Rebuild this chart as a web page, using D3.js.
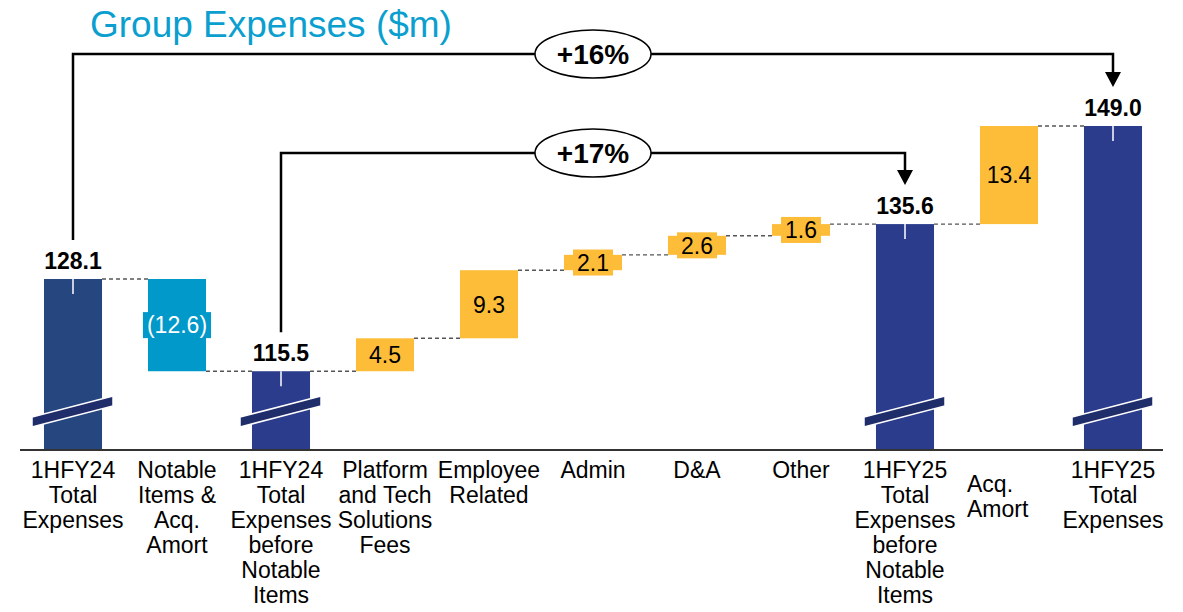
<!DOCTYPE html>
<html>
<head>
<meta charset="utf-8">
<script src="https://cdn.jsdelivr.net/npm/d3@7"></script>
<style>
  html, body { margin: 0; padding: 0; background: #fff; }
  svg { display: block; font-family: "Liberation Sans", Arial, sans-serif; }
</style>
</head>
<body>
<svg id="chart" width="1183" height="612"></svg>
<script>
// categories, one array of lines per bar
const categories = [
  ['1HFY24', 'Total', 'Expenses'],
  ['Notable', 'Items &', 'Acq.', 'Amort'],
  ['1HFY24', 'Total', 'Expenses', 'before', 'Notable', 'Items'],
  ['Platform', 'and Tech', 'Solutions', 'Fees'],
  ['Employee', 'Related'],
  ['Admin'],
  ['D&A'],
  ['Other'],
  ['1HFY25', 'Total', 'Expenses', 'before', 'Notable', 'Items'],
  ['Acq.', 'Amort'],
  ['1HFY25', 'Total', 'Expenses']
];
const values = [128.1, -12.6, 115.5, 4.5, 9.3, 2.1, 2.6, 1.6, 135.6, 13.4, 149.0];
const kinds = ['total', 'neg', 'total', 'pos', 'pos', 'pos', 'pos', 'pos', 'total', 'pos', 'total'];
const growthLabels = ['+16%', '+17%'];
const growthFrom = [0, 2];
const growthTo = [10, 8];

const svg = d3.select('#chart');
const baseY = 450;

const x = d3.scaleBand()
  .domain(d3.range(categories.length))
  .range([21, 1165])
  .paddingInner(0.442)
  .paddingOuter(0.221);
const y = d3.scaleLinear().domain([104.74, 149]).range([baseY, 126]);

// running totals for the floating bars
let running = 0;
const bars = values.map((v, i) => {
  let lo, hi;
  if (kinds[i] === 'total') {
    lo = y.domain()[0];
    hi = v;
    running = v;
  } else {
    lo = Math.min(running, running + v);
    hi = Math.max(running, running + v);
    running += v;
  }
  return { i, v, kind: kinds[i], lo, hi, end: running };
});

const colorFor = (d) => {
  if (d.kind === 'neg') return '#0099c9';
  if (d.kind === 'pos') return '#fdbd39';
  return d.i === 0 ? '#25467f' : '#2a3c8b';
};

// title
svg.append('text')
  .attr('x', 90)
  .attr('y', 37)
  .attr('font-size', 37)
  .attr('fill', '#0b9fcf')
  .text('Group Expenses ($m)');

// connectors
svg.append('g')
  .selectAll('line')
  .data(bars.slice(0, -1))
  .join('line')
  .attr('x1', (d) => x(d.i) + x.bandwidth())
  .attr('x2', (d) => x(d.i + 1))
  .attr('y1', (d) => y(d.end))
  .attr('y2', (d) => y(d.end))
  .attr('stroke', '#555')
  .attr('stroke-width', 1.4)
  .attr('stroke-dasharray', '4,3');

// bars
svg.append('g')
  .selectAll('rect')
  .data(bars)
  .join('rect')
  .attr('x', (d) => x(d.i))
  .attr('width', x.bandwidth())
  .attr('y', (d) => y(d.hi))
  .attr('height', (d) => y(d.lo) - y(d.hi))
  .attr('fill', colorFor);

const totals = bars.filter((d) => d.kind === 'total');

// white tick on top of totals
svg.append('g')
  .selectAll('line')
  .data(totals)
  .join('line')
  .attr('x1', (d) => x(d.i) + x.bandwidth() / 2)
  .attr('x2', (d) => x(d.i) + x.bandwidth() / 2)
  .attr('y1', (d) => y(d.hi))
  .attr('y2', (d) => y(d.hi) + 15)
  .attr('stroke', '#fff')
  .attr('stroke-width', 1.5);

// axis break marks
svg.append('g')
  .selectAll('polygon')
  .data(totals)
  .join('polygon')
  .attr('points', (d) => {
    const cx = x(d.i) + x.bandwidth() / 2;
    return [[cx - 41, 427], [cx + 40, 406], [cx + 40, 396], [cx - 41, 417]].join(' ');
  })
  .attr('fill', '#1f2e6a')
  .attr('stroke', '#fff')
  .attr('stroke-width', 1.5);

// baseline
svg.append('line')
  .attr('x1', 20).attr('x2', 1163)
  .attr('y1', baseY).attr('y2', baseY)
  .attr('stroke', '#333').attr('stroke-width', 2);

// total value labels
svg.append('g')
  .selectAll('text')
  .data(totals)
  .join('text')
  .attr('x', (d) => x(d.i) + x.bandwidth() / 2)
  .attr('y', (d) => y(d.hi) - 10)
  .attr('text-anchor', 'middle')
  .attr('font-size', 23)
  .attr('font-weight', 'bold')
  .attr('fill', '#000')
  .text((d) => d3.format('.1f')(d.v));

// floating labels with filled background
const floats = bars.filter((d) => d.kind !== 'total');
const fl = svg.append('g')
  .selectAll('g')
  .data(floats)
  .join('g')
  .attr('transform', (d) => `translate(${x(d.i) + x.bandwidth() / 2},${(y(d.lo) + y(d.hi)) / 2})`);
fl.append('text')
  .attr('text-anchor', 'middle')
  .attr('dy', '0.36em')
  .attr('font-size', 23)
  .attr('fill', (d) => (d.kind === 'neg' ? '#fff' : '#000'))
  .text((d) => (d.v < 0 ? `(${d3.format('.1f')(-d.v)})` : d3.format('.1f')(d.v)));
fl.each(function (d) {
  const g = d3.select(this);
  const w = g.select('text').node().getComputedTextLength();
  g.insert('rect', 'text')
    .attr('x', -w / 2 - 4)
    .attr('y', -13)
    .attr('width', w + 8)
    .attr('height', 26)
    .attr('fill', colorFor(d));
});

// category labels
const cat = svg.append('g')
  .selectAll('text')
  .data(categories)
  .join('text')
  .attr('font-size', 23)
  .attr('fill', '#000')
  .attr('text-anchor', (d, i) => (i === 9 ? 'start' : 'middle'))
  .attr('transform', (d, i) => {
    const cx = x(i) + x.bandwidth() / 2;
    return i === 9 ? `translate(${cx - 42},492)` : `translate(${cx},478)`;
  });
cat.selectAll('tspan')
  .data((d) => d)
  .join('tspan')
  .attr('x', 0)
  .attr('dy', (d, j) => (j === 0 ? 0 : 25))
  .text((d) => d);

// growth brackets
const bracketY = [54, 153];
growthLabels.forEach((label, k) => {
  const a = bars[growthFrom[k]];
  const b = bars[growthTo[k]];
  const xa = x(a.i) + x.bandwidth() / 2;
  const xb = x(b.i) + x.bandwidth() / 2;
  const ya = y(a.hi) - 39;
  const yb = y(b.hi) - 39;
  const hy = bracketY[k];
  const g = svg.append('g');
  g.append('path')
    .attr('d', `M${xa},${ya}V${hy}H${xb}V${yb - 14}`)
    .attr('fill', 'none')
    .attr('stroke', '#000')
    .attr('stroke-width', 2.5);
  g.append('path')
    .attr('d', `M${xb - 8},${yb - 15}L${xb + 8},${yb - 15}L${xb},${yb}Z`)
    .attr('fill', '#000');
  const mx = (xa + xb) / 2;
  g.append('ellipse')
    .attr('cx', mx).attr('cy', hy)
    .attr('rx', 58).attr('ry', 24)
    .attr('fill', '#fff')
    .attr('stroke', '#000')
    .attr('stroke-width', 1.5);
  g.append('text')
    .attr('x', mx).attr('y', hy + 10)
    .attr('text-anchor', 'middle')
    .attr('font-size', 28)
    .attr('font-weight', 'bold')
    .text(label);
});
</script>
</body>
</html>
